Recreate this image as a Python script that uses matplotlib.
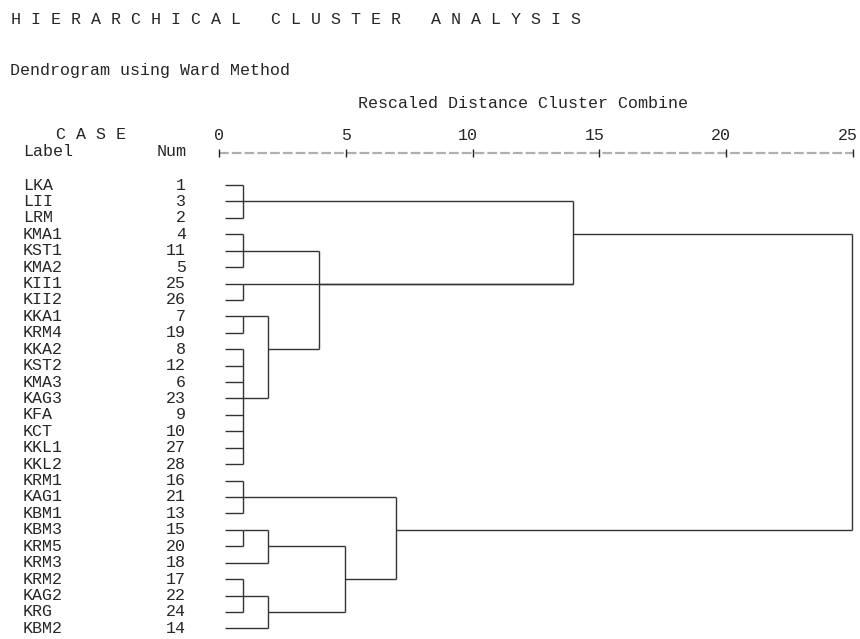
import matplotlib
matplotlib.use("Agg")
import matplotlib.pyplot as plt

# ---------------- data ----------------
case_labels = ["LKA", "LII", "LRM", "KMA1", "KST1", "KMA2", "KII1", "KII2",
               "KKA1", "KRM4", "KKA2", "KST2", "KMA3", "KAG3", "KFA", "KCT",
               "KKL1", "KKL2", "KRM1", "KAG1", "KBM1", "KBM3", "KRM5", "KRM3",
               "KRM2", "KAG2", "KRG", "KBM2"]
case_nums = [1, 3, 2, 4, 11, 5, 25, 26, 7, 19, 8, 12, 6, 23, 9, 10, 27, 28,
             16, 21, 13, 15, 20, 18, 17, 22, 24, 14]

# merges: node ids 0..27 are leaves (row order), 28+ are merges in order
merge_children = [
    [0, 1, 2],                          # 28
    [3, 4, 5],                          # 29
    [6, 7],                             # 30
    [8, 9],                             # 31
    [10, 11, 12, 13, 14, 15, 16, 17],   # 32
    [31, 32],                           # 33
    [29, 33],                           # 34
    [28, 30, 34],                       # 35
    [18, 19, 20],                       # 36
    [21, 22],                           # 37
    [37, 23],                           # 38
    [24, 25, 26],                       # 39
    [39, 27],                           # 40
    [38, 40],                           # 41
    [36, 41],                           # 42
    [35, 42],                           # 43
]
merge_heights = [0.95, 0.95, 0.95, 0.95, 0.95, 1.93, 3.94, 13.94,
                 0.95, 0.95, 1.93, 0.95, 1.93, 4.96, 6.96, 24.95]
merge_rows = [1, 4, 6, 8, 13, 10, 6, 3, 19, 21, 22, 25, 26, 24, 21, 12]
leaf_start = 0.24

axis_ticks = [0, 5, 10, 15, 20, 25]
axis_tick_labels = ["0", "5", "10", "15", "20", "25"]

title_text = "H I E R A R C H I C A L   C L U S T E R   A N A L Y S I S"
subtitle_text = "Dendrogram using Ward Method"
axis_title = "Rescaled Distance Cluster Combine"

# ---------------- layout ----------------
W, H = 860, 639
X0_PX, X25_PX = 219, 853          # pixel position of distance 0 and 25
ROW0_PX, ROW_STEP = 185, 16.42    # pixel y of first row, row spacing

fig = plt.figure(figsize=(W / 100, H / 100), dpi=100)
fig.patch.set_facecolor("white")
ax = fig.add_axes([0, 0, 1, 1])
upx = 25.0 / (X25_PX - X0_PX)
ax.set_xlim(-X0_PX * upx, (W - X0_PX) * upx)
ax.set_ylim((H - ROW0_PX) / ROW_STEP, -ROW0_PX / ROW_STEP)
ax.axis("off")

FONT = "Liberation Mono"
FS = 12
TXT = "#262626"
LINE = "#333333"


def fig_text(xp, yp, s, ha="left", **kw):
    fig.text(xp / W, 1 - yp / H, s, ha=ha, va="center", family=FONT,
             fontsize=FS, color=TXT, **kw)


def px_row(yp):
    return (yp - ROW0_PX) / ROW_STEP


# titles
fig_text(11, 19, title_text)
fig_text(10, 70, subtitle_text)
fig_text(523, 103, axis_title, ha="center")
fig_text(91, 135, "C A S E", ha="center")
fig_text(23, 152, "Label")
fig_text(187, 152, "Num", ha="right")

# axis scale line
plt.rcParams["lines.scale_dashes"] = False
axis_row = px_row(152.5)
ax.plot([axis_ticks[0], axis_ticks[-1]], [axis_row, axis_row],
        color="#b0b0b0", lw=1.6, linestyle=(0, (7.0, 2.2)),
        solid_capstyle="butt", clip_on=False)
ax.plot(axis_ticks, [axis_row] * len(axis_ticks), linestyle="none",
        marker="|", markersize=6, markeredgewidth=1.0, color="#222222",
        clip_on=False)
for t, lab in zip(axis_ticks, axis_tick_labels):
    ax.annotate(lab, xy=(t, px_row(135)), xytext=(5, 0),
                textcoords="offset pixels", ha="right", va="center",
                family=FONT, fontsize=FS, color=TXT, annotation_clip=False)

# case labels
for i, (lab, num) in enumerate(zip(case_labels, case_nums)):
    yp = ROW0_PX + i * ROW_STEP
    fig_text(23, yp, lab)
    fig_text(186, yp, str(num), ha="right")

# dendrogram
n_leaves = len(case_labels)
node_row = {i: i for i in range(n_leaves)}
node_h = {i: leaf_start for i in range(n_leaves)}
for k, (ch, h, r) in enumerate(zip(merge_children, merge_heights, merge_rows)):
    nid = n_leaves + k
    rows = [node_row[c] for c in ch]
    ax.plot([h, h], [min(rows), max(rows)], color=LINE, lw=1.0,
            solid_capstyle="butt", clip_on=False)
    for c in ch:
        ax.plot([node_h[c], h], [node_row[c], node_row[c]], color=LINE,
                lw=1.0, solid_capstyle="butt", clip_on=False)
    node_row[nid] = r
    node_h[nid] = h

fig.savefig("out.png", dpi=100, facecolor="white")
